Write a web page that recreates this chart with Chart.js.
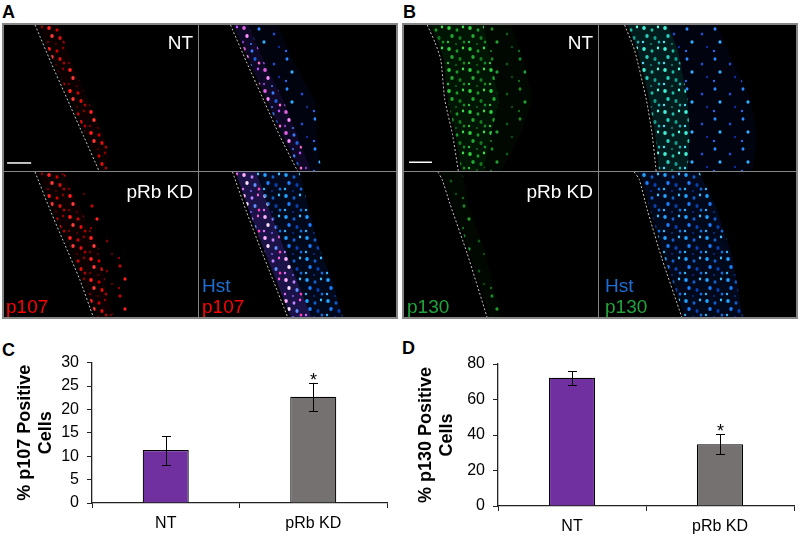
<!DOCTYPE html>
<html><head><meta charset="utf-8">
<script src="https://cdn.jsdelivr.net/npm/chart.js@4.4.1/dist/chart.umd.min.js"></script>
<style>
html,body{margin:0;padding:0;background:#fff;width:800px;height:538px;overflow:hidden;font-family:"Liberation Sans",Arial,sans-serif;}
.panel{position:absolute;background:#858585;}
canvas.q{position:absolute;background:#000;}
.lbl{position:absolute;font-size:19px;line-height:19px;white-space:nowrap;}
.letter{position:absolute;font-weight:bold;font-size:18px;line-height:18px;color:#000;}
.bar{position:absolute;}
</style></head><body>

<div class="letter" style="left:2px;top:3px">A</div>
<div class="letter" style="left:403px;top:3px">B</div>
<div class="letter" style="left:2px;top:341px">C</div>
<div class="letter" style="left:402px;top:339px">D</div>

<div class="panel" style="left:2px;top:23px;width:396px;height:296px"></div>
<div class="panel" style="left:402px;top:23px;width:396px;height:296px"></div>

<canvas class="q" id="aTL" width="194" height="146" style="left:4px;top:25px"></canvas>
<canvas class="q" id="aTR" width="197" height="146" style="left:199px;top:25px"></canvas>
<canvas class="q" id="aBL" width="194" height="145" style="left:4px;top:172px"></canvas>
<canvas class="q" id="aBR" width="197" height="145" style="left:199px;top:172px"></canvas>
<canvas class="q" id="bTL" width="194" height="146" style="left:404px;top:25px"></canvas>
<canvas class="q" id="bTR" width="197" height="146" style="left:599px;top:25px"></canvas>
<canvas class="q" id="bBL" width="194" height="145" style="left:404px;top:172px"></canvas>
<canvas class="q" id="bBR" width="197" height="145" style="left:599px;top:172px"></canvas>

<div class="lbl" style="right:607px;top:33px;color:#fff">NT</div>
<div class="lbl" style="right:607px;top:182px;color:#fff">pRb KD</div>
<div class="lbl" style="left:6px;top:297px;color:#ff0000">p107</div>
<div class="lbl" style="left:202px;top:276px;color:#1c70d6">Hst</div>
<div class="lbl" style="left:202px;top:297px;color:#ff0000">p107</div>

<div class="lbl" style="right:207px;top:33px;color:#fff">NT</div>
<div class="lbl" style="right:207px;top:182px;color:#fff">pRb KD</div>
<div class="lbl" style="left:407px;top:297px;color:#1fa53c">p130</div>
<div class="lbl" style="left:605px;top:276px;color:#1c70d6">Hst</div>
<div class="lbl" style="left:605px;top:297px;color:#1fa53c">p130</div>

<div class="bar" style="left:0;top:345px;width:400px;height:193px"><canvas id="chartC" width="400" height="193"></canvas></div>
<div class="bar" style="left:400px;top:345px;width:400px;height:193px"><canvas id="chartD" width="400" height="193"></canvas></div>

<script>
// ---------- bar chart data ----------
const categories = ['NT', 'pRb KD'];
const p107Values = [11.3, 22.7];
const p107Errors = [3.1, 3.0];
const p130Values = [72.2, 34.8];
const p130Errors = [3.8, 5.6];
const significance = ['', '*'];
const p107Ticks = [0, 5, 10, 15, 20, 25, 30];
const p130Ticks = [0, 20, 40, 60, 80];
const p107Title = ['% p107 Positive', 'Cells'];
const p130Title = ['% p130 Positive', 'Cells'];

// ---------- micrograph outlines (quadrant %, x from left, y from top) ----------
const aTLBoundary = [[16,0],[24,25],[33,52],[41,76],[49,100]];
const aTLRedOuter = [[28,0],[35,25],[41,45],[48,65],[54,86],[53,100]];
const aTRBoundary = [[16,0],[24,25],[33,52],[41,76],[50,100]];
const aTRPinkOuter = [[25,0],[33,25],[43,52],[50,76],[57,100]];
const aTRBlueOuter = [[40,0],[48,25],[59,52],[60,76],[62,100]];
const aBLBoundary = [[16,0],[24,27],[31,49],[39,74],[46,100]];
const aBLRedOuter = [[30,0],[40,27],[48,49],[52,74],[56,100]];
const aBLSparseOuter = [[35,0],[48,27],[60,49],[68,74],[64,100]];
const aBRBoundary = [[17,0],[24,27],[31,52],[38,76],[45,100]];
const aBRPinkOuter = [[29,0],[36,27],[43,52],[50,76],[57,100]];
const aBRBlueOuter = [[51,0],[56,27],[61,52],[68,76],[73,100]];
const bTLBoundary = [[12,0],[16,12],[19,24],[21,51],[25,75],[28,100]];
const bTLGreenOuter = [[41,0],[45,25],[49,51],[45,75],[41,100]];
const bTLFaintOuter = [[55,0],[62,25],[66,51],[60,75],[50,100]];
const bTRBoundary = [[13,0],[18,17],[24,51],[27,75],[29,100]];
const bTRCyanOuter = [[35,0],[40,17],[45,51],[46,75],[45,100]];
const bTRBlueOuter = [[60,0],[68,25],[77,51],[80,75],[78,100]];
const bBLBoundary = [[17.5,0],[19.6,5],[23.7,22],[32.5,56],[42.8,100]];
const bBLGreenOuter = [[30,0],[33,22],[42,56],[50,100]];
const bBRBoundary = [[17.9,0],[20.4,5],[24.5,26],[32,60],[42,100]];
const bBRBlueOuter = [[51,0],[60,26],[68,60],[73,100]];
const aScaleBar = [[1.6,94.5],[14,94.5]];
const bScaleBar = [[2.6,94],[14.4,94]];

// ---------- dot textures (style only, fixed tile layouts) ----------
const DENSE_LAYOUT = [[3,3,1.8,2.1],[11,5,1.5,1.8],[17,2,1.2,1.4],[6,11,1.7,2.0],[14,13,1.6,1.9],[2,17,1.2,1.3],[18,17,1.3,1.5],[10,19,1.0,1.1]];
const SPARSE_LAYOUT = [[4,4,1.5,1.7],[19,9,1.3,1.5],[9,17,1.6,1.8],[24,22,1.2,1.3],[3,26,1.1,1.2]];
function dotPattern(w,h,layout,bg,colors){
  const c=document.createElement('canvas'); c.width=w; c.height=h; const g=c.getContext('2d');
  if(bg){g.fillStyle=bg; g.fillRect(0,0,w,h);}
  layout.forEach((d,i)=>{g.fillStyle=colors[i%colors.length]; g.beginPath(); g.ellipse(d[0],d[1],d[2],d[3],0,0,Math.PI*2); g.fill();});
  return g.createPattern(c,'repeat');
}
const RED_DENSE   = dotPattern(21,21,DENSE_LAYOUT,'rgba(50,0,0,0.25)',['#ff2020','#d00000','#8a0000','#ff3a3a','#e01010','#700000','#b00000','#600000']);
const RED_SPARSE  = dotPattern(28,30,SPARSE_LAYOUT,null,['#d00000','#800000','#ff2020','#600000','#a00000']);
const PINK        = dotPattern(21,21,DENSE_LAYOUT,'rgba(40,20,110,0.35)',['#e060e0','#3a7cff','#c050ff','#ff90ff','#2060e0','#8040c0','#ff70d0','#4080ff']);
const PINK_BRIGHT = dotPattern(21,21,DENSE_LAYOUT,'rgba(60,40,160,0.45)',['#ffb0ff','#c080ff','#ff60e0','#ffe0ff','#6090ff','#e070ff','#ff40c0','#8060ff']);
const BLUE_SPARSE = dotPattern(28,30,SPARSE_LAYOUT,'rgba(5,10,60,0.25)',['#2a8cff','#1a50d0','#30b0ff','#1030a0','#2070ff']);
const BLUE_CELLS  = dotPattern(21,21,DENSE_LAYOUT,'rgba(0,30,90,0.3)',['#20a0ff','#1060d0','#40c0ff','#1a80ff','#0840b0','#30b8ff','#1070e0','#0a3090']);
const GREEN_DENSE = dotPattern(21,21,DENSE_LAYOUT,'rgba(0,60,10,0.35)',['#2fcc3f','#1a9a2a','#40e050','#22a833','#137a20','#30c040','#1a8a28','#0f6a1a']);
const GREEN_FAINT = dotPattern(28,30,SPARSE_LAYOUT,'rgba(0,30,5,0.25)',['#1a8a28','#0f5a18','#22a030','#0c4a12','#147020']);
const CYAN_DENSE  = dotPattern(21,21,DENSE_LAYOUT,'rgba(0,80,80,0.35)',['#40f0d8','#20c0a8','#60ffe8','#2ad0c0','#14a090','#50e0ff','#20b0b0','#108878']);

function bandPlugin(bands){
  return {id:'bands', beforeDatasetsDraw(chart){
    const ctx=chart.ctx, sx=chart.scales.x, sy=chart.scales.y;
    bands.forEach(b=>{
      ctx.save(); ctx.beginPath();
      b.inner.forEach((p,i)=>{const px=sx.getPixelForValue(p[0]), py=sy.getPixelForValue(p[1]); if(i) ctx.lineTo(px,py); else ctx.moveTo(px,py);});
      for(let i=b.outer.length-1;i>=0;i--){const p=b.outer[i]; ctx.lineTo(sx.getPixelForValue(p[0]), sy.getPixelForValue(p[1]));}
      ctx.closePath(); ctx.fillStyle=b.fill; ctx.fill(); ctx.restore();
    });
  }};
}
const pts = a => a.map(p=>({x:p[0],y:p[1]}));
function quadChart(id, boundary, bands, scaleBar){
  const datasets=[{data:pts(boundary), borderColor:'#c4c4c4', borderWidth:1, borderDash:[2,2], pointRadius:0, tension:0.2, fill:false}];
  if(scaleBar) datasets.push({data:pts(scaleBar), borderColor:'#ffffff', borderWidth:1.5, pointRadius:0, fill:false});
  new Chart(document.getElementById(id), {
    type:'line', data:{datasets},
    options:{responsive:false, animation:false, events:[], layout:{padding:0},
      plugins:{legend:{display:false}, tooltip:{enabled:false}},
      scales:{x:{type:'linear',min:0,max:100,display:false}, y:{type:'linear',min:0,max:100,reverse:true,display:false}}},
    plugins:[bandPlugin(bands)]
  });
}
const shift = (a,d) => a.map(p=>[p[0]+d,p[1]]);
quadChart('aTL', aTLBoundary, [{inner:shift(aTLBoundary,1.5), outer:aTLRedOuter, fill:RED_DENSE}], aScaleBar);
quadChart('aTR', aTRBoundary, [{inner:aTRPinkOuter, outer:aTRBlueOuter, fill:BLUE_SPARSE},{inner:shift(aTRBoundary,1.5), outer:aTRPinkOuter, fill:PINK}], null);
quadChart('aBL', aBLBoundary, [{inner:aBLRedOuter, outer:aBLSparseOuter, fill:RED_SPARSE},{inner:shift(aBLBoundary,1.5), outer:aBLRedOuter, fill:RED_DENSE}], null);
quadChart('aBR', aBRBoundary, [{inner:aBRPinkOuter, outer:aBRBlueOuter, fill:BLUE_CELLS},{inner:shift(aBRBoundary,1.5), outer:aBRPinkOuter, fill:PINK_BRIGHT}], null);
quadChart('bTL', bTLBoundary, [{inner:bTLGreenOuter, outer:bTLFaintOuter, fill:GREEN_FAINT},{inner:shift(bTLBoundary,1.5), outer:bTLGreenOuter, fill:GREEN_DENSE}], bScaleBar);
quadChart('bTR', bTRBoundary, [{inner:bTRCyanOuter, outer:bTRBlueOuter, fill:BLUE_SPARSE},{inner:shift(bTRBoundary,1.5), outer:bTRCyanOuter, fill:CYAN_DENSE}], null);
quadChart('bBL', bBLBoundary, [{inner:shift(bBLBoundary,1.5), outer:bBLGreenOuter, fill:GREEN_FAINT}], null);
quadChart('bBR', bBRBoundary, [{inner:shift(bBRBoundary,1.5), outer:bBRBlueOuter, fill:BLUE_CELLS}], null);

// ---------- bar charts ----------
function errorPlugin(values, errors, stars){
  return {id:'err', afterDatasetsDraw(chart){
    const ctx=chart.ctx, y=chart.scales.y, meta=chart.getDatasetMeta(0);
    ctx.save(); ctx.strokeStyle='#000'; ctx.lineWidth=1;
    meta.data.forEach((bar,i)=>{
      const x=Math.round(bar.x)+0.5;
      const yt=Math.round(y.getPixelForValue(values[i]+errors[i]))+0.5;
      const yb=Math.round(y.getPixelForValue(values[i]-errors[i]))+0.5;
      ctx.beginPath();
      ctx.moveTo(x,yt); ctx.lineTo(x,yb);
      ctx.moveTo(x-4.5,yt); ctx.lineTo(x+4.5,yt);
      ctx.moveTo(x-4.5,yb); ctx.lineTo(x+4.5,yb);
      ctx.stroke();
      if(stars[i]){
        ctx.fillStyle='#000'; ctx.font='18px "Liberation Sans", Arial, sans-serif';
        ctx.textAlign='center'; ctx.textBaseline='alphabetic';
        ctx.fillText(stars[i], x, yt+2);
      }
    });
    ctx.restore();
  }};
}
function barChart(id, values, errors, ticks, title, yWidth, xHeight, pad, titlePad){
  new Chart(document.getElementById(id), {
    type:'bar',
    data:{labels:categories, datasets:[{data:values, backgroundColor:['#7030a0','#767171'], borderColor:'#000', borderWidth:1.2, barPercentage:0.312, categoryPercentage:1}]},
    options:{responsive:false, animation:false, events:[],
      layout:{padding:pad},
      plugins:{legend:{display:false}, tooltip:{enabled:false}},
      scales:{
        x:{grid:{display:true, drawOnChartArea:false, offset:true, tickLength:5, color:'#222', lineWidth:1},
           border:{color:'#222', width:1.3},
           ticks:{color:'#000', font:{family:'"Liberation Sans", Arial, sans-serif', size:16}, padding:6},
           afterFit(s){s.height=xHeight;}},
        y:{min:ticks[0], max:ticks[ticks.length-1],
           afterBuildTicks(s){s.ticks=ticks.map(v=>({value:v}));},
           grid:{drawOnChartArea:false, tickLength:5, color:'#222', lineWidth:1},
           border:{color:'#222', width:1.3},
           ticks:{color:'#000', font:{family:'"Liberation Sans", Arial, sans-serif', size:16}, padding:8},
           title:{display:true, text:title, color:'#000', font:{family:'"Liberation Sans", Arial, sans-serif', size:18, weight:'bold'}, padding:{top:titlePad, bottom:0}},
           afterFit(s){s.width=yWidth;}}
      }},
    plugins:[errorPlugin(values, errors, significance)]
  });
}
barChart('chartC', p107Values, p107Errors, p107Ticks, p107Title, 92, 35, {top:15,right:13,left:0,bottom:0}, 14);
barChart('chartD', p130Values, p130Errors, p130Ticks, p130Title, 98, 32, {top:19,right:6,left:0,bottom:0}, 15);
</script>
</body></html>
